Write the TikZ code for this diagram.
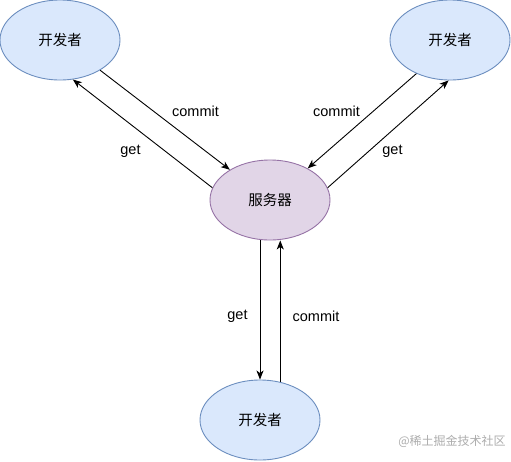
\documentclass[tikz,border=0pt]{standalone}
\usepackage{fontspec}
\setmainfont{Liberation Sans}
\newfontfamily\cjk{Noto Sans CJK SC}
\usetikzlibrary{shapes.geometric,arrows.meta}
\definecolor{bluefill}{HTML}{DAE8FC}
\definecolor{bluedraw}{HTML}{6C8EBF}
\definecolor{purpfill}{HTML}{E1D5E7}
\definecolor{purpdraw}{HTML}{9673A6}
\tikzset{
  dev/.style={ellipse, draw=bluedraw, fill=bluefill, line width=0.9pt,
    minimum width=120pt, minimum height=80pt, inner sep=0pt,
    font=\cjk\fontsize{14.5pt}{16pt}\selectfont},
  srvbox/.style={ellipse, draw=purpdraw, fill=purpfill, line width=0.9pt,
    minimum width=120pt, minimum height=80pt, inner sep=0pt,
    font=\cjk\fontsize{14.5pt}{16pt}\selectfont},
  arr/.style={draw=black, line width=0.9pt,
    -{Stealth[length=9pt,width=7pt,inset=2.5pt]}},
  lbl/.style={fill=white, inner sep=1pt,
    font=\fontsize{14.5pt}{16pt}\selectfont},
  wm/.style={text=black!32, inner sep=0pt,
    font=\cjk\fontsize{12pt}{14pt}\selectfont}
}
\begin{document}
\begin{tikzpicture}[x=1pt,y=-1pt]
\useasboundingbox[fill=white] (0,0) rectangle (511,461);
\node[dev] (tl) at (60,40) {开发者};
\node[dev] (tr) at (450,40) {开发者};
\node[srvbox] (srv) at (270,200) {服务器};
\node[dev] (bot) at (260,420) {开发者};

% top-left
\draw[arr] (tl.-37) -- (srv.143);
\draw[arr] (srv.168) -- (tl.-72);
% top-right
\draw[arr] (tr.-135) -- (srv.40);
\draw[arr] (srv.12) -- (tr.-92);
% bottom
\draw[arr] (bot.north |- srv.south) -- (bot.north);
\draw[arr] (bot.62) -- (bot.62 |- srv.south);

\node[lbl] (c1) at (195.5,111) {commit};
\node[lbl] (g1) at (130.5,151) {get};
\node[lbl] (c2) at (336.5,111) {commit};
\node[lbl] (g2) at (392.5,151) {get};
\node[lbl] (g3) at (237.5,316) {get};
\node[lbl] (c3) at (316,316) {commit};

\node[wm] (mark) at (452,441) {@稀土掘金技术社区};
\end{tikzpicture}
\end{document}
